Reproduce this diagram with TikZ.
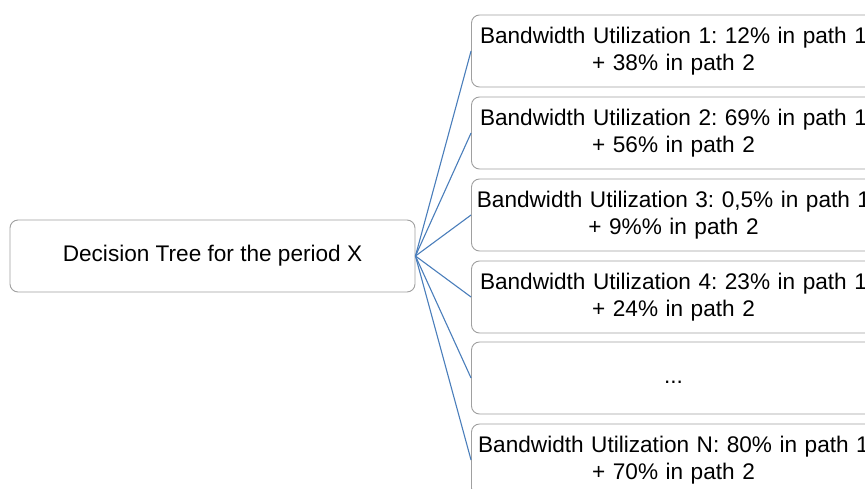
\documentclass[tikz,border=0pt]{standalone}
\usepackage{fontspec}
\setmainfont{Liberation Sans}
\definecolor{boxgray}{HTML}{A0A0A0}
\definecolor{linkblue}{HTML}{4A7EBB}
\begin{document}
\frenchspacing
\begin{tikzpicture}[x=1pt,y=-1pt,
  box/.style={draw=boxgray,line width=0.9pt,rounded corners=8pt,fill=white,
    minimum height=72pt,inner sep=0pt,align=center,
    font=\fontsize{22.6}{27}\selectfont\frenchspacing},
  rootbox/.style={box,minimum width=405pt},
  leafbox/.style={box,minimum width=404pt,text width=400pt},
  link/.style={draw=linkblue,line width=1.1pt}]
\useasboundingbox (0,0) rectangle (865,488);
\clip (0,0) rectangle (865,488);
\node[rootbox] (root) at (212.5,256) {Decision Tree for the period X};
\node[leafbox] (b1) at (673.5,51) {Bandwidth Utilization 1: 12\% in path 1\\+ 38\% in path 2};
\node[leafbox] (b2) at (673.5,133) {Bandwidth Utilization 2: 69\% in path 1\\+ 56\% in path 2};
\node[leafbox] (b3) at (673.5,215) {Bandwidth Utilization 3: 0,5\% in path 1\\+ 9\%\% in path 2};
\node[leafbox] (b4) at (673.5,297) {Bandwidth Utilization 4: 23\% in path 1\\+ 24\% in path 2};
\node[leafbox] (b5) at (673.5,378) {\strut...};
\node[leafbox] (b6) at (673.5,460) {Bandwidth Utilization N: 80\% in path 1\\+ 70\% in path 2};
\foreach \b in {b1,b2,b3,b4,b5,b6}
  \draw[link] (root.east) -- (\b.west);
\end{tikzpicture}
\end{document}
